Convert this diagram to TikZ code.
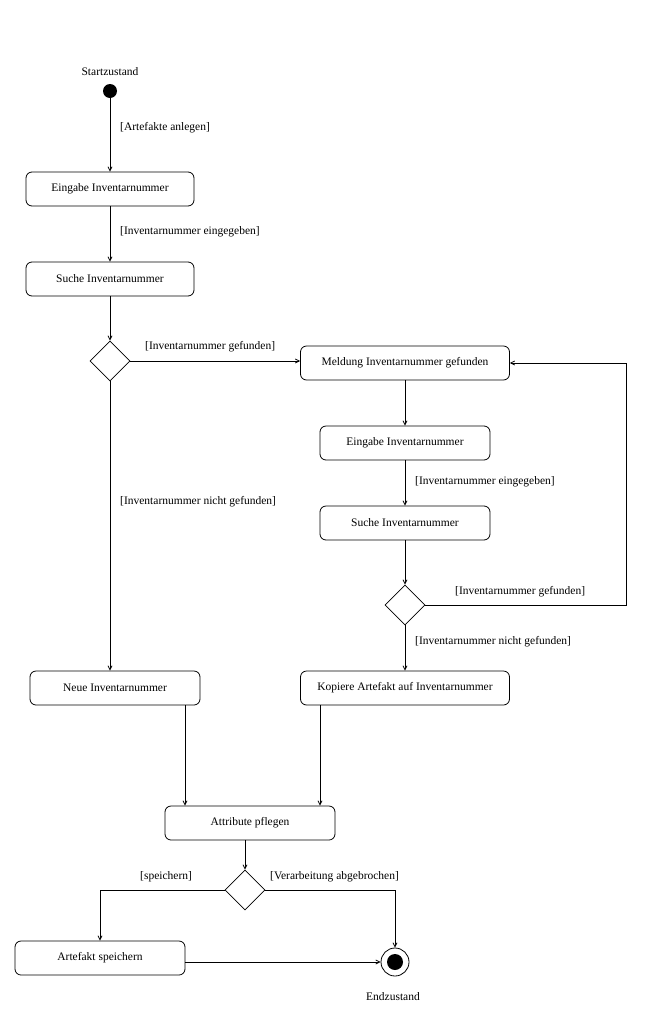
\documentclass[tikz,border=0pt]{standalone}
\usepackage{fontspec}
\setmainfont{Liberation Serif}
\usetikzlibrary{shapes.geometric,arrows.meta}
\begin{document}
\begin{tikzpicture}[x=1pt,y=-1pt,
  act/.style={draw,line width=0.8pt,rounded corners=6pt,minimum height=34pt,inner sep=2pt,font=\fontsize{11.5}{13}\selectfont},
  dec/.style={draw,line width=0.8pt,diamond,minimum size=40pt,inner sep=0pt,aspect=1},
  lbl/.style={anchor=west,inner sep=0pt,font=\fontsize{11.5}{13}\selectfont},
  arr/.style={line width=0.8pt,-{Straight Barb[length=4pt,width=4pt]}},
  ln/.style={line width=0.8pt}]
\useasboundingbox (0,0) rectangle (670,1015);
% start
\node[circle,fill=black,minimum size=14pt,inner sep=0pt] (start) at (110,91) {};
\node[lbl,anchor=center] (startl) at (110,72) {Startzustand};
% left column
\node[act,minimum width=168pt] (b1) at (110,189) {Eingabe Inventarnummer};
\node[act,minimum width=168pt] (b2) at (110,279) {Suche Inventarnummer};
\node[dec] (d1) at (110,361) {};
\node[act,minimum width=170pt] (b7) at (115,688) {Neue Inventarnummer};
% right column
\node[act,minimum width=209pt] (b3) at (405,363) {Meldung Inventarnummer gefunden};
\node[act,minimum width=170pt] (b4) at (405,443) {Eingabe Inventarnummer};
\node[act,minimum width=170pt] (b5) at (405,523) {Suche Inventarnummer};
\node[dec] (d2) at (405,605) {};
\node[act,minimum width=209pt] (b6) at (405,688) {Kopiere Artefakt auf Inventarnummer};
% bottom
\node[act,minimum width=170pt] (b8) at (250,823) {Attribute pflegen};
\node[dec] (d3) at (245,890) {};
\node[act,minimum width=170pt] (b9) at (100,958) {Artefakt speichern};
\node[circle,draw,line width=0.8pt,minimum size=28pt,inner sep=0pt] (end) at (395,962) {};
\node[circle,fill=black,minimum size=16pt,inner sep=0pt] (endin) at (395,962) {};
\node[lbl,anchor=center] (endl) at (393,997) {Endzustand};
% helper coordinates
\coordinate (xa) at (185,0);
\coordinate (xb) at (320,0);
\coordinate (xr) at (626,0);
\coordinate (xs) at (100,0);
\coordinate (xe) at (395,0);
% connectors
\draw[arr] (start) -- (b1);
\draw[arr] (b1) -- (b2);
\draw[arr] (b2) -- (d1);
\draw[arr] (d1.east) -- (b3.west |- d1.east);
\draw[arr] (d1.south) -- (b7.north -| d1.south);
\draw[arr] (b3) -- (b4);
\draw[arr] (b4) -- (b5);
\draw[arr] (b5) -- (d2);
\draw[arr] (d2.south) -- (b6.north -| d2.south);
\draw[arr] (d2.east) -- (d2.east -| xr) -- (xr |- b3.east) -- (b3.east);
\draw[arr] (b7.south -| xa) -- (b8.north -| xa);
\draw[arr] (b6.south -| xb) -- (b8.north -| xb);
\draw[arr] (b8.south -| d3.north) -- (d3.north);
\draw[arr] (d3.west) -- (d3.west -| xs) -- (b9.north -| xs);
\draw[arr] (d3.east) -- (d3.east -| xe) -- (end.north);
\draw[arr] (b9.east |- end.west) -- (end.west);
% labels
\node[lbl] (l1) at (120,128) {[Artefakte anlegen]};
\node[lbl] (l2) at (120,232) {[Inventarnummer eingegeben]};
\node[lbl] (l3) at (145,347) {[Inventarnummer gefunden]};
\node[lbl] (l4) at (120,502) {[Inventarnummer nicht gefunden]};
\node[lbl] (l5) at (415,482) {[Inventarnummer eingegeben]};
\node[lbl] (l6) at (455,592) {[Inventarnummer gefunden]};
\node[lbl] (l7) at (415,642) {[Inventarnummer nicht gefunden]};
\node[lbl] (l8) at (140,877) {[speichern]};
\node[lbl] (l9) at (270,877) {[Verarbeitung abgebrochen]};
\end{tikzpicture}
\end{document}
